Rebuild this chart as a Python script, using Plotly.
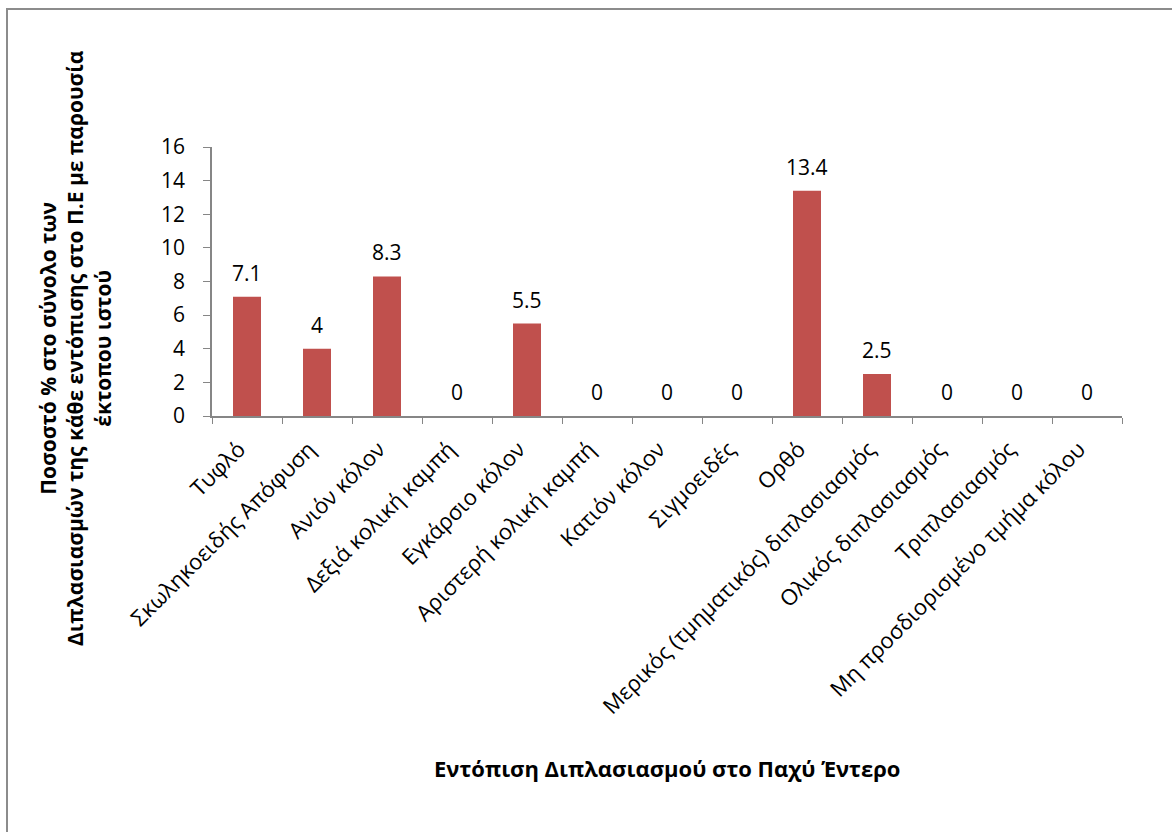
import plotly.graph_objects as go

categories = [
    "Τυφλό",
    "Σκωληκοειδής Απόφυση",
    "Ανιόν κόλον",
    "Δεξιά κολική καμπή",
    "Εγκάρσιο κόλον",
    "Αριστερή κολική καμπή",
    "Κατιόν κόλον",
    "Σιγμοειδές",
    "Ορθό",
    "Μερικός (τμηματικός) διπλασιασμός",
    "Ολικός διπλασιασμός",
    "Τριπλασιασμός",
    "Μη προσδιορισμένο τμήμα κόλου",
]
values = [7.1, 4, 8.3, 0, 5.5, 0, 0, 0, 13.4, 2.5, 0, 0, 0]
y_ticks = [0, 2, 4, 6, 8, 10, 12, 14, 16]

y_title = "Ποσοστό % στο σύνολο των<br>Διπλασιασμών της κάθε εντόπισης στο Π.Ε με παρουσία<br>έκτοπου ιστού"
x_title = "Εντόπιση Διπλασιασμού στο Παχύ Έντερο"

FONT = "Open Sans"
AXIS_GREY = "#868686"

W, H = 1172, 832
L, R, T, B = 212, 50, 147, 416
plot_w = W - L - R
plot_h = H - T - B


def px_to_paper_x(px):
    return (px - L) / plot_w


def px_to_paper_y(py):
    return (H - B - py) / plot_h


fig = go.Figure()
fig.add_trace(go.Bar(
    x=categories,
    y=values,
    marker=dict(color="#C0504D", line=dict(width=0)),
    width=0.4,
    hoverinfo="x+y",
))

# value labels above each bar
for cat, v in zip(categories, values):
    fig.add_annotation(
        x=cat, y=v, xref="x", yref="y",
        text=f"{v:g}",
        showarrow=False,
        yanchor="bottom",
        yshift=8,
        font=dict(family=FONT, size=21, color="#000000"),
    )

fig.update_layout(
    width=W,
    height=H,
    autosize=False,
    margin=dict(l=L, r=R, t=T, b=B, pad=0),
    paper_bgcolor="white",
    plot_bgcolor="white",
    showlegend=False,
    font=dict(family=FONT, color="#000000"),
    xaxis=dict(
        type="category",
        tickangle=-45,
        tickson="boundaries",
        ticks="outside",
        ticklen=6,
        tickcolor=AXIS_GREY,
        showline=True,
        linecolor=AXIS_GREY,
        linewidth=1.5,
        showgrid=False,
        ticklabelstandoff=10,
        ticklabelshift=-8,
        tickfont=dict(family=FONT, size=22, color="#000000"),
    ),
    yaxis=dict(
        range=[0, 16],
        tickvals=y_ticks,
        ticks="outside",
        ticklen=7,
        tickcolor=AXIS_GREY,
        showline=True,
        linecolor=AXIS_GREY,
        linewidth=1.5,
        showgrid=False,
        zeroline=False,
        ticklabelstandoff=14,
        tickfont=dict(family=FONT, size=21, color="#000000"),
    ),
)

# axis titles
fig.add_annotation(
    text="<b>" + y_title + "</b>",
    textangle=-90,
    xref="paper", yref="paper",
    x=px_to_paper_x(75), y=px_to_paper_y(348),
    xanchor="center", yanchor="middle",
    showarrow=False,
    align="center",
    font=dict(family=FONT, size=21, color="#000000"),
)
fig.add_annotation(
    text="<b>" + x_title + "</b>",
    xref="paper", yref="paper",
    x=0.5, y=px_to_paper_y(768),
    xanchor="center", yanchor="middle",
    showarrow=False,
    font=dict(family=FONT, size=22, color="#000000"),
)

# chart-area border
fig.add_shape(
    type="rect",
    xref="paper", yref="paper",
    x0=px_to_paper_x(7), x1=px_to_paper_x(1180),
    y0=px_to_paper_y(845), y1=px_to_paper_y(9),
    line=dict(color="#8C8C8C", width=2),
    fillcolor="rgba(0,0,0,0)",
    layer="below",
)

fig.write_html("out.html")
